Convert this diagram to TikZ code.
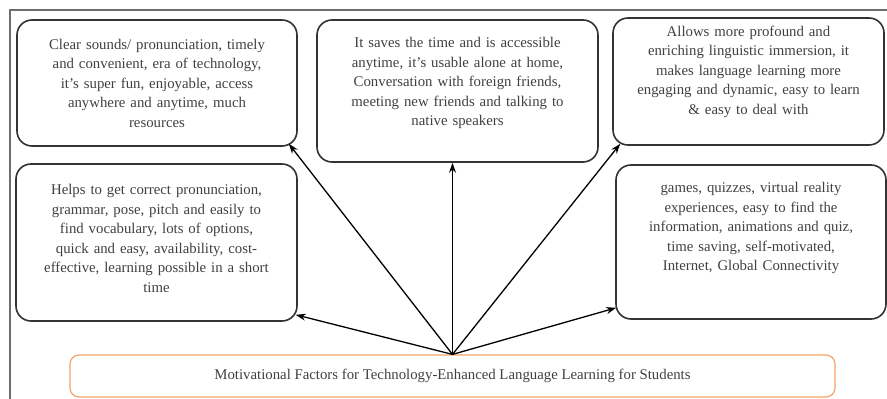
\documentclass[tikz,border=0pt]{standalone}
\usepackage{fontspec}
\setmainfont{Liberation Serif}
\usetikzlibrary{arrows.meta}
\definecolor{frameGray}{HTML}{6E6E6E}
\definecolor{boxOrange}{HTML}{F4A46A}
\tikzset{>={Stealth[length=10pt,width=7pt]}}
\tikzset{
  factor/.style={draw=black!80, line width=1.6pt, rounded corners=15pt, align=center,
    text=black!75, font=\fontsize{14.8}{19.5}\selectfont, text width=#1, inner sep=0pt},
  factor/.default=270pt,
  mainfactor/.style={draw=boxOrange, line width=1.2pt, rounded corners=9pt, align=center,
    text=black!75, font=\fontsize{14.8}{16}\selectfont, minimum width=765pt, minimum height=42pt},
  pointer/.style={->, line width=1.3pt}
}

\begin{document}
\begin{tikzpicture}[x=1pt, y=1pt]
    \useasboundingbox (0,0) rectangle (887,399);
    \draw[frameGray, line width=1.6pt] (10,0) -- (10,389) -- (887,389);
    \node[factor, minimum width=280pt, minimum height=126pt] (clear) at (157,316)
      {Clear sounds/ pronunciation, timely\\ and convenient, era of technology,\\ it's super fun, enjoyable, access\\ anywhere and anytime, much\\ resources};
    \node[factor, minimum width=281pt, minimum height=142pt] (saves) at (457.5,308)
      {It saves the time and is accessible\\ anytime, it's usable alone at home,\\ Conversation with foreign friends,\\ meeting new friends and talking to\\ native speakers\par\vspace*{16pt}};
    \node[factor, minimum width=271pt, minimum height=127pt] (allows) at (748.5,317.5)
      {Allows more profound and\\ enriching linguistic immersion, it\\ makes language learning more\\ engaging and dynamic, easy to learn\\ \& easy to deal with\par\vspace*{20pt}};
    \node[factor, minimum width=281pt, minimum height=157pt] (helps) at (156.5,156.5)
      {Helps to get correct pronunciation,\\ grammar, pose, pitch and easily to\\ find vocabulary, lots of options,\\ quick and easy, availability, cost-\\ effective, learning possible in a short\\ time\par\vspace*{8pt}};
    \node[factor, minimum width=268pt, minimum height=154pt] (games) at (751,157)
      {games, quizzes, virtual reality\\ experiences, easy to find the\\ information, animations and quiz,\\ time saving, self-motivated,\\ Internet, Global Connectivity\par\vspace*{28pt}};
    \node[mainfactor] (motive) at (452.5,23)
      {Motivational Factors for Technology-Enhanced Language Learning for Students};
    \draw[pointer] (motive.north) -- ([shift={(-9,3)}]clear.south east);
    \draw[pointer] (motive.north) -- (motive.north |- saves.south);
    \draw[pointer] (motive.north) -- ([shift={(8,2)}]allows.south west);
    \draw[pointer] (motive.north) -- ([shift={(-2,7)}]helps.south east);
    \draw[pointer] (motive.north) -- ([shift={(1,12)}]games.south west);
\end{tikzpicture}
\end{document}
